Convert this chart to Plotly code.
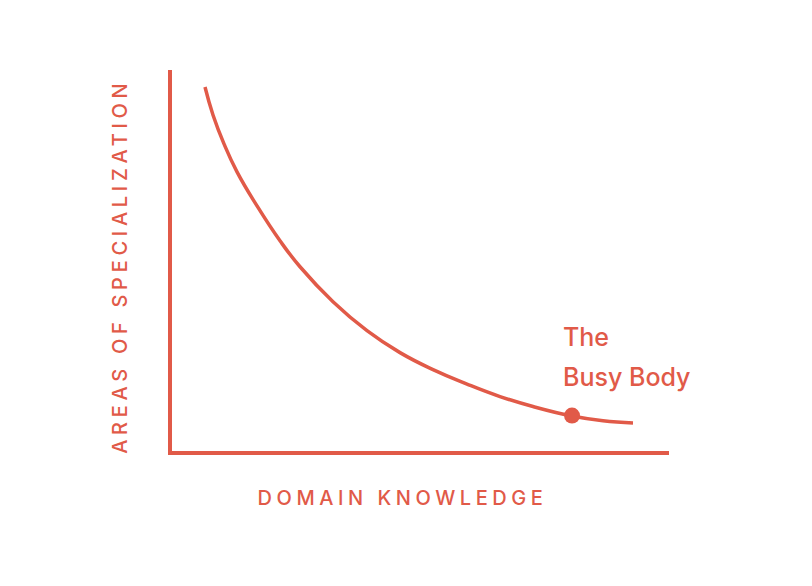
import plotly.graph_objects as go

# Curve (knowledge vs. specialization, arbitrary units)
knowledge = [35, 43, 54, 67, 87, 110, 130, 163, 197, 230, 263, 297, 330, 363, 402, 433, 463]
specialization = [366, 338, 309, 281, 247, 212, 186, 151, 122, 100, 83, 68.5, 56, 46, 36.5, 31.7, 29.6]

point_x = [402]
point_y = [37]
point_label = ["The", "Busy Body"]

x_title = "DOMAIN KNOWLEDGE"
y_title = "AREAS OF SPECIALIZATION"

COLOR = "#E15A48"
FONT = "Inter"

fig = go.Figure()
fig.add_trace(go.Scatter(x=knowledge, y=specialization, mode="lines",
                         line=dict(color=COLOR, width=3.5, shape="spline", smoothing=1.3),
                         hoverinfo="skip", showlegend=False))
fig.add_trace(go.Scatter(x=point_x, y=point_y, mode="markers",
                         marker=dict(color=COLOR, size=16),
                         cliponaxis=False, hoverinfo="skip", showlegend=False))

fig.add_annotation(x=point_x[0] - 11, y=116, xref="x", yref="y", text=point_label[0],
                   showarrow=False, xanchor="left", yanchor="middle",
                   font=dict(family=FONT, size=25, color=COLOR, weight=500))
fig.add_annotation(x=point_x[0] - 11, y=76, xref="x", yref="y", text=point_label[1],
                   showarrow=False, xanchor="left", yanchor="middle",
                   font=dict(family=FONT, size=25, color=COLOR, weight=500))
fig.add_annotation(x=402, y=499, xref="paper", yref="paper", text=x_title,
                   showarrow=False, xanchor="center", yanchor="middle",
                   font=dict(family=FONT, size=20, color=COLOR, weight=500))
fig.add_annotation(x=120, y=267, xref="paper", yref="paper", text=y_title,
                   textangle=-90, showarrow=False, xanchor="center", yanchor="middle",
                   font=dict(family=FONT, size=20, color=COLOR, weight=500))

# place the axis-title annotations at pixel positions (converted to paper coords)
W, H = 812, 586
L, R, T, B = 172, 143, 70, 134.5
pw, ph = W - L - R, H - T - B
for a in fig.layout.annotations[2:]:
    a.x = (a.x - L) / pw
    a.y = (H - B - a.y) / ph

axis_common = dict(showgrid=False, zeroline=False, showticklabels=False, ticks="",
                   showline=True, linecolor=COLOR, linewidth=4, fixedrange=True)
fig.update_xaxes(range=[2, 499], **axis_common)
fig.update_yaxes(range=[1.5, 383], **axis_common)

fig.update_layout(width=W, height=H, margin=dict(l=L, r=R, t=T, b=B),
                  paper_bgcolor="white", plot_bgcolor="white",
                  font=dict(family=FONT, color=COLOR))

post = """
document.querySelectorAll('.annotation-text').forEach(function(t){
  var s = t.textContent;
  if (s === 'DOMAIN KNOWLEDGE') { t.style.letterSpacing = '4.55px'; }
  if (s === 'AREAS OF SPECIALIZATION') { t.style.letterSpacing = '4.7px'; }
});
"""
fig.write_html("out.html", post_script=post, config={"displayModeBar": False})
